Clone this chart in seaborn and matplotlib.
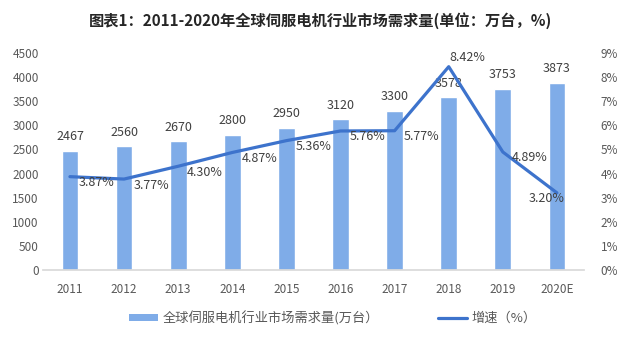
import matplotlib
matplotlib.use("Agg")
import matplotlib.pyplot as plt
import seaborn as sns
import numpy as np
import pandas as pd
from matplotlib.patches import Patch
from matplotlib.lines import Line2D

years = ["2011", "2012", "2013", "2014", "2015", "2016", "2017", "2018", "2019", "2020E"]
demand = [2467, 2560, 2670, 2800, 2950, 3120, 3300, 3578, 3753, 3873]
growth = [3.87, 3.77, 4.30, 4.87, 5.36, 5.76, 5.77, 8.42, 4.89, 3.20]
left_ticks = [0, 500, 1000, 1500, 2000, 2500, 3000, 3500, 4000, 4500]
right_ticks = [0, 1, 2, 3, 4, 5, 6, 7, 8, 9]

title = "图表1：2011-2020年全球伺服电机行业市场需求量(单位：万台，%)"
bar_name = "全球伺服电机行业市场需求量(万台）"
line_name = "增速（%）"

sns.set_theme(style="white")
plt.rcParams['font.family'] = ['Noto Sans CJK SC', 'DejaVu Sans']

BAR_C = "#7FACE8"
LINE_C = "#3D73CC"
TXT_C = "#595959"

df = pd.DataFrame({"year": years, "demand": demand, "growth": growth})
df["pos"] = np.arange(len(df))

fig = plt.figure(figsize=(6.4, 3.42), dpi=100)
ax = fig.add_axes([0.067, 0.21, 0.9125 - 0.067, 0.846 - 0.21])
sns.barplot(data=df, x="year", y="demand", color=BAR_C, width=0.31, ax=ax, saturation=1)
ax.set_ylim(0, 4500)
ax.set_xlim(-0.5, len(years) - 0.5)
ax.set_yticks(left_ticks)
ax.set_xlabel("")
ax.set_ylabel("")
for s in ["top", "right", "left"]:
    ax.spines[s].set_visible(False)
ax.spines["bottom"].set_color("#D9D9D9")
ax.tick_params(axis="y", length=0, pad=3, labelsize=8.5, labelcolor=TXT_C)
ax.tick_params(axis="x", length=0, pad=9, labelsize=8.5, labelcolor=TXT_C)

for p, v in zip(df["pos"], df["demand"]):
    ax.annotate(str(v), (p, v), xytext=(0, 14), textcoords="offset pixels",
                ha="center", va="center", fontsize=9, color="#404040")

ax2 = ax.twinx()
sns.lineplot(data=df, x="pos", y="growth", ax=ax2, color=LINE_C, linewidth=2.3)
ax2.set_ylim(0, 9)
ax2.set_xlim(-0.5, len(years) - 0.5)
ax2.set_yticks(right_ticks)
ax2.set_yticklabels([f"{t}%" for t in right_ticks])
ax2.set_ylabel("")
ax2.set_xlabel("")
for s in ["top", "right", "left", "bottom"]:
    ax2.spines[s].set_visible(False)
ax2.tick_params(axis="y", length=0, pad=12, labelsize=8.5, labelcolor=TXT_C)

n = len(growth)
for i, (p, g) in enumerate(zip(df["pos"], df["growth"])):
    if g == max(growth):
        off = (19, 9)
    elif i == n - 1:
        off = (-10, -6)
    else:
        off = (27, -6)
    ax2.annotate(f"{g:.2f}%", (p, g), xytext=off, textcoords="offset pixels",
                 ha="center", va="center", fontsize=9, color="#404040")

fig.text(0.5, 0.94, title, ha="center", va="center", fontsize=11,
         fontweight="bold", color="#262626")

handles = [Patch(facecolor=BAR_C, edgecolor="none"),
           Line2D([0], [0], color=LINE_C, linewidth=2.3)]
fig.legend(handles, [bar_name, line_name], loc="center", bbox_to_anchor=(0.52, 0.07),
           ncol=2, frameon=False, fontsize=9.5, labelcolor=TXT_C,
           handlelength=2.2, handleheight=0.45, handletextpad=0.3, columnspacing=4.5)

fig.savefig("out.png", dpi=100)
